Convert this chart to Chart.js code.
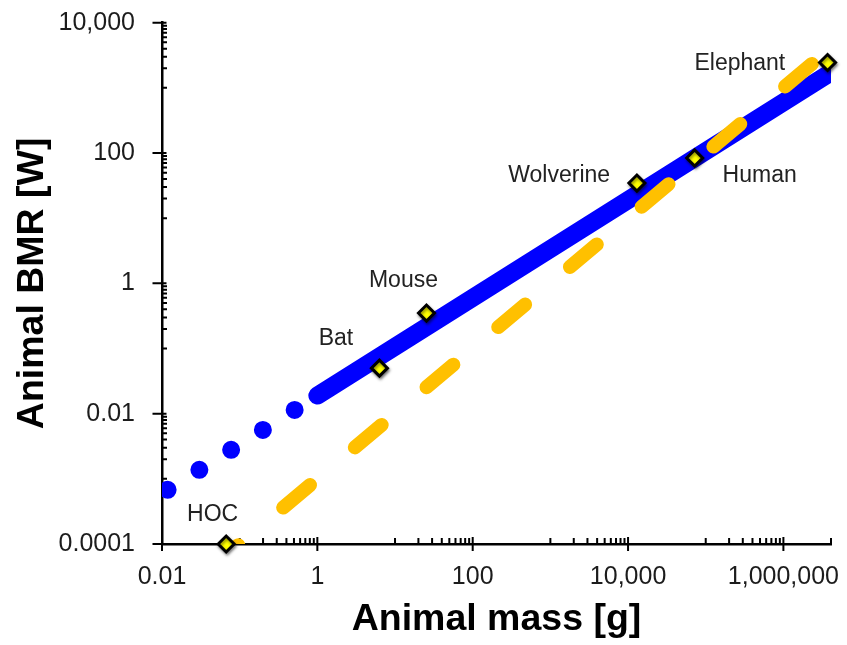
<!DOCTYPE html>
<html><head><meta charset="utf-8">
<script src="https://cdn.jsdelivr.net/npm/chart.js@4.4.1/dist/chart.umd.min.js"></script>
<style>html,body{margin:0;padding:0;background:#fff;} canvas{display:block;}</style>
</head><body>
<canvas id="c" width="847" height="645"></canvas>
<script>
// ---- data ----
const animalNames = ['HOC', 'Bat', 'Mouse', 'Wolverine', 'Human', 'Elephant'];
const animalMass  = [0.067, 6.3, 25.4, 13000, 72000, 3700000];   // g
const animalBMR   = [0.0001, 0.05, 0.35, 34.6, 84, 2450];         // W

// Kleiber fit (solid blue) and its extrapolation to small masses (blue dots)
const kleiberMass = [1, 4100000];
const kleiberBMR  = [0.019, 1735];
const extrapMass  = [0.51, 0.01];
const extrapBMR   = [0.0114, 0.0006];

// proportional-to-mass line (orange dashes)
const linearMass = [0.0433, 4100000];
const linearBMR  = [0.0000433, 4100];

// axis ticks
const xTickValues = [0.01, 1, 100, 10000, 1000000];
const xTickLabels = ['0.01', '1', '100', '10,000', '1,000,000'];
const yTickValues = [0.0001, 0.01, 1, 100, 10000];
const yTickLabels = ['0.0001', '0.01', '1', '100', '10,000'];

// ---- helpers ----
const pts = (xs, ys) => xs.map((v, i) => ({x: v, y: ys[i]}));
function minorTicks(majors) {
  const out = [];
  for (let i = 0; i < majors.length; i++) {
    const base = majors[i] * 10;
    for (let k = 1; k <= 9; k++) out.push(base * k);
  }
  return out;
}
const FONT = '"Liberation Sans", Arial, Helvetica, sans-serif';
const labelOffsets = [[-13.5, -23.3], [-43.5, -23.3], [-23, -25.6], [-77.7, -1], [65, 24], [-87.7, 7]];

const tickPlugin = {
  id: 'tickPlugin',
  beforeDatasetsDraw(chart) {
    const {ctx, scales: {x, y}, chartArea: ca} = chart;
    ctx.save();
    ctx.strokeStyle = '#000';
    ctx.lineWidth = 2;
    ctx.beginPath();
    const ay = ca.bottom, ax = ca.left;
    xTickValues.forEach(v => { const p = x.getPixelForValue(v); ctx.moveTo(p, ay - 7); ctx.lineTo(p, ay + 7); });
    minorTicks(xTickValues).concat([x.max]).forEach(v => {
      if (v > x.max) return;
      const p = x.getPixelForValue(v); ctx.moveTo(p, ay); ctx.lineTo(p, ay - 6);
    });
    yTickValues.forEach(v => { const p = y.getPixelForValue(v); ctx.moveTo(ax - 9.5, p); ctx.lineTo(ax + 4.5, p); });
    minorTicks(yTickValues).forEach(v => {
      if (v > y.max) return;
      const p = y.getPixelForValue(v); ctx.moveTo(ax, p); ctx.lineTo(ax + 5, p);
    });
    ctx.stroke();
    ctx.restore();
  }
};

const labelPlugin = {
  id: 'labelPlugin',
  afterDatasetsDraw(chart) {
    const {ctx, scales: {x, y}} = chart;
    ctx.save();
    ctx.font = '23px ' + FONT;
    ctx.fillStyle = '#222';
    ctx.textAlign = 'center';
    ctx.textBaseline = 'alphabetic';
    animalNames.forEach((n, i) => {
      const px = x.getPixelForValue(animalMass[i]);
      const py = y.getPixelForValue(animalBMR[i]);
      ctx.fillText(n, px + labelOffsets[i][0], py + labelOffsets[i][1]);
    });
    ctx.restore();
  }
};

const shadowPlugin = {
  id: 'shadowPlugin',
  beforeDatasetDraw(chart, args) {
    if (args.index === 0) {
      chart.ctx.save();
      chart.ctx.shadowColor = 'rgba(0,0,0,0.45)';
      chart.ctx.shadowBlur = 3;
      chart.ctx.shadowOffsetX = 1;
      chart.ctx.shadowOffsetY = 2;
    }
  },
  afterDatasetDraw(chart, args) {
    if (args.index === 0) chart.ctx.restore();
  }
};

new Chart(document.getElementById('c'), {
  type: 'scatter',
  data: {
    datasets: [
      {
        label: 'Animals',
        data: pts(animalMass, animalBMR),
        pointStyle: 'rectRot',
        pointRadius: 8,
        pointHoverRadius: 8,
        pointBackgroundColor: '#FFFF00',
        pointBorderColor: '#000',
        pointBorderWidth: 3,
        showLine: false,
        clip: false,
        order: 0
      },
      {
        label: 'BMR proportional to mass',
        data: pts(linearMass, linearBMR),
        showLine: true,
        borderColor: '#FFC000',
        borderWidth: 14,
        borderDash: [35, 58.6],
        borderCapStyle: 'round',
        pointRadius: 0, pointHoverRadius: 0,
        clip: 0,
        order: 1
      },
      {
        label: 'Kleiber extrapolation',
        data: pts(extrapMass, extrapBMR),
        showLine: true,
        borderColor: '#0000FF',
        borderWidth: 18,
        borderDash: [0, 37.5],
        borderCapStyle: 'round',
        pointRadius: 0, pointHoverRadius: 0,
        clip: 0,
        order: 2
      },
      {
        label: 'Kleiber',
        data: pts(kleiberMass, kleiberBMR),
        showLine: true,
        borderColor: '#0000FF',
        borderWidth: 18,
        borderCapStyle: 'round',
        pointRadius: 0, pointHoverRadius: 0,
        clip: 0,
        order: 3
      }
    ]
  },
  options: {
    responsive: false,
    devicePixelRatio: 1,
    animation: false,
    layout: {padding: {top: 22.7, right: 16, left: 0, bottom: 0}},
    plugins: {legend: {display: false}, tooltip: {enabled: false}},
    scales: {
      x: {
        type: 'logarithmic',
        min: 0.01,
        max: 4100000,
        grid: {display: false, drawTicks: false},
        border: {display: true, color: '#000', width: 2.5},
        afterBuildTicks: s => { s.ticks = xTickValues.map(v => ({value: v})); },
        afterFit: s => { s.height = 101; s.paddingLeft = 0; s.paddingRight = 0; },
        ticks: {
          autoSkip: false, maxRotation: 0, minRotation: 0,
          padding: 18.5,
          color: '#1c1c1c',
          font: {family: FONT, size: 25},
          callback: (v, i) => xTickLabels[i]
        },
        title: {
          display: true, text: 'Animal mass [g]', color: '#000',
          font: {family: FONT, size: 37.5, weight: 'bold'},
          padding: {top: 0, bottom: 3}
        }
      },
      y: {
        type: 'logarithmic',
        min: 0.0001,
        max: 10000,
        grid: {display: false, drawTicks: false},
        border: {display: true, color: '#000', width: 2.5},
        afterBuildTicks: s => { s.ticks = yTickValues.map(v => ({value: v})); },
        afterFit: s => { s.width = 162; s.paddingTop = 0; s.paddingBottom = 0; },
        ticks: {
          autoSkip: false,
          padding: 27,
          color: '#1c1c1c',
          font: {family: FONT, size: 25},
          callback: (v, i) => yTickLabels[i]
        },
        title: {
          display: true, text: 'Animal BMR [W]', color: '#000',
          font: {family: FONT, size: 37.5, weight: 'bold'},
          padding: {top: 10, bottom: 0}
        }
      }
    }
  },
  plugins: [tickPlugin, labelPlugin, shadowPlugin]
});
</script>
</body></html>
